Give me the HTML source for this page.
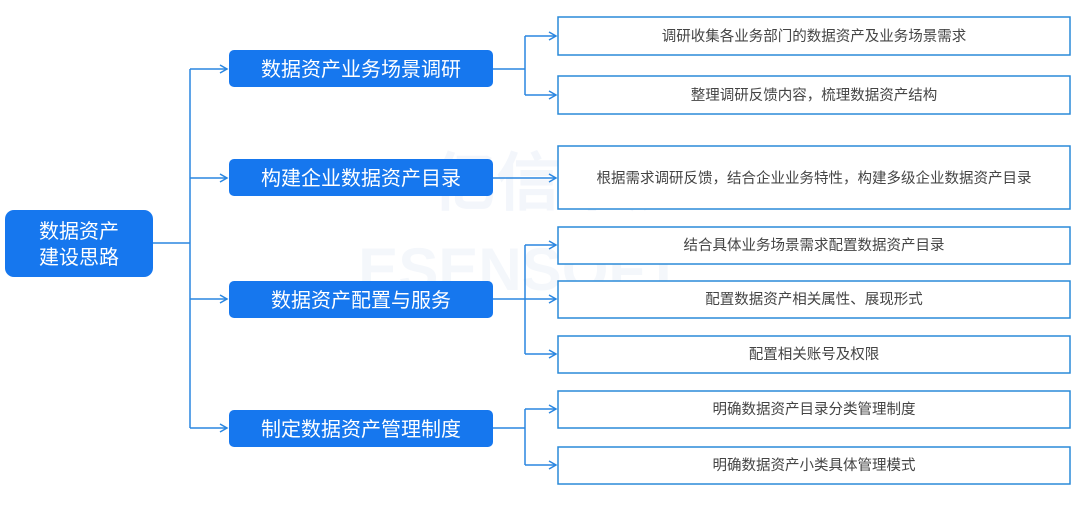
<!DOCTYPE html>
<html><head><meta charset="utf-8"><style>
body{margin:0;background:#fff;}
svg{display:block;font-family:"Liberation Sans","Noto Sans CJK SC",sans-serif;}
</style></head><body>
<svg width="1080" height="506" viewBox="0 0 1080 506" xmlns="http://www.w3.org/2000/svg">
<defs>
<marker id="a" markerWidth="10" markerHeight="10" refX="8" refY="5" orient="auto" markerUnits="userSpaceOnUse">
<path d="M1,1 L8,5 L1,9" fill="none" stroke="#2a86e0" stroke-width="1.5"/>
</marker>
</defs>
<text x="560" y="205" font-size="64" font-weight="bold" fill="#f3f6fb" text-anchor="middle">亿信华辰</text>
<text x="520" y="290" font-size="60" font-weight="bold" fill="#f4f7fb" text-anchor="middle">ESENSOFT</text>
<g fill="none" stroke="#2a86e0" stroke-width="1.5">
<path d="M153,243 H190"/>
<path d="M190,69 V428"/>
<path d="M190,69 H227" marker-end="url(#a)"/>
<path d="M190,178 H227" marker-end="url(#a)"/>
<path d="M190,299 H227" marker-end="url(#a)"/>
<path d="M190,428 H227" marker-end="url(#a)"/>
<path d="M493,69 H525 M525,36 V95"/>
<path d="M525,36 H556" marker-end="url(#a)"/>
<path d="M525,95 H556" marker-end="url(#a)"/>
<path d="M493,178 H556" marker-end="url(#a)"/>
<path d="M493,299 H525 M525,245 V354"/>
<path d="M525,245 H556" marker-end="url(#a)"/>
<path d="M525,299 H556" marker-end="url(#a)"/>
<path d="M525,354 H556" marker-end="url(#a)"/>
<path d="M493,428 H525 M525,409 V465"/>
<path d="M525,409 H556" marker-end="url(#a)"/>
<path d="M525,465 H556" marker-end="url(#a)"/>
</g>
<g fill="#1677ee">
<rect x="5" y="210" width="148" height="67" rx="9"/>
<rect x="229" y="50" width="264" height="37" rx="5"/>
<rect x="229" y="159" width="264" height="37" rx="5"/>
<rect x="229" y="281" width="264" height="37" rx="5"/>
<rect x="229" y="410" width="264" height="37" rx="5"/>
</g>
<g fill="#fff" text-anchor="middle" font-size="20">
<text x="79" y="238">数据资产</text>
<text x="79" y="264">建设思路</text>
<text x="361" y="76">数据资产业务场景调研</text>
<text x="361" y="185">构建企业数据资产目录</text>
<text x="361" y="307">数据资产配置与服务</text>
<text x="361" y="436">制定数据资产管理制度</text>
</g>
<g fill="#fff" stroke="#2a8ad8" stroke-width="1.5">
<rect x="558" y="17" width="512" height="38"/>
<rect x="558" y="76" width="512" height="38"/>
<rect x="558" y="146" width="512" height="63"/>
<rect x="558" y="227" width="512" height="37"/>
<rect x="558" y="281" width="512" height="37"/>
<rect x="558" y="336" width="512" height="37"/>
<rect x="558" y="391" width="512" height="37"/>
<rect x="558" y="447" width="512" height="37"/>
</g>
<g fill="#444" text-anchor="middle" font-size="14.5">
<text x="814" y="41">调研收集各业务部门的数据资产及业务场景需求</text>
<text x="814" y="100">整理调研反馈内容，梳理数据资产结构</text>
<text x="814" y="183">根据需求调研反馈，结合企业业务特性，构建多级企业数据资产目录</text>
<text x="814" y="250">结合具体业务场景需求配置数据资产目录</text>
<text x="814" y="304">配置数据资产相关属性、展现形式</text>
<text x="814" y="359">配置相关账号及权限</text>
<text x="814" y="414">明确数据资产目录分类管理制度</text>
<text x="814" y="470">明确数据资产小类具体管理模式</text>
</g>
</svg>
</body></html>
